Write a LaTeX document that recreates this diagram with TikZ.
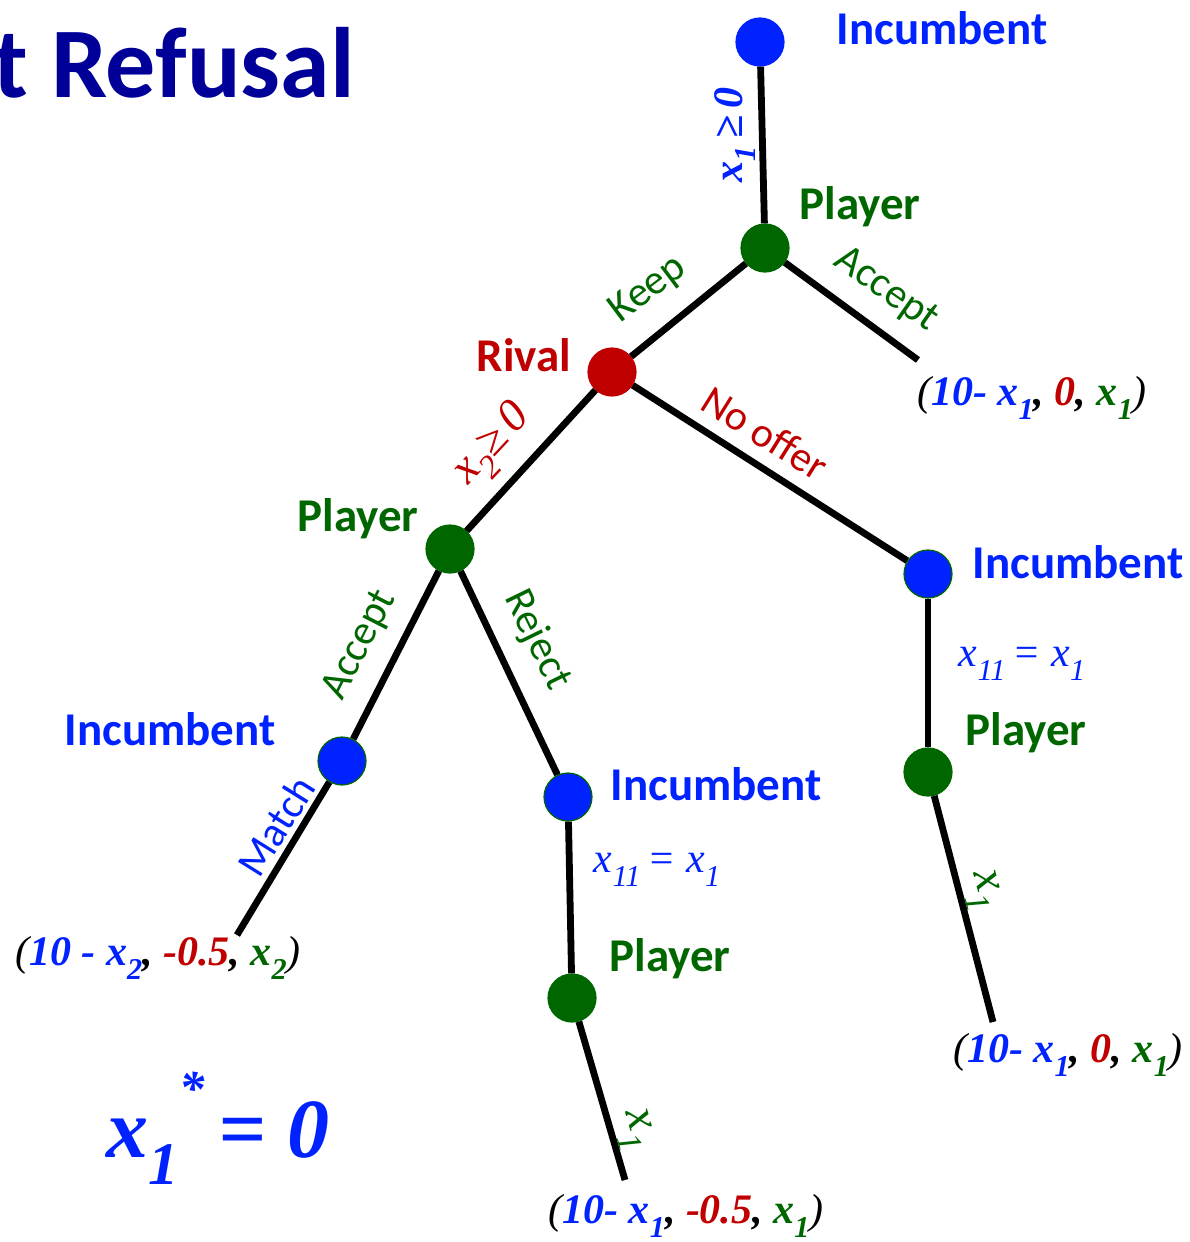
\documentclass[tikz,border=0pt]{standalone}
\usepackage{fontspec}
\setmainfont{Carlito}
\newfontfamily\timesit{Liberation Serif}
\usetikzlibrary{positioning}

\definecolor{incblue}{RGB}{0,34,255}
\definecolor{plgreen}{RGB}{0,102,0}
\definecolor{rivred}{RGB}{192,0,0}
\definecolor{titleblue}{RGB}{0,0,153}

% lowered index, italic like the letter before it
\newcommand\lo[1]{\raisebox{-0.32em}{\scalebox{0.72}{#1}}}

\begin{document}
\begin{tikzpicture}[x=0.5pt, y=-0.5pt,
    decision/.style={circle, minimum size=24pt, inner sep=0pt, line width=0.6pt},
    branch/.style={line width=3.4pt},
    who/.style={font=\bfseries\fontsize{23.5}{23.5}\selectfont},
    move/.style={font=\fontsize{21}{21}\selectfont, inner sep=1pt},
    payoff/.style={font=\timesit\itshape\bfseries\fontsize{21}{21}\selectfont},
    var/.style={font=\timesit\itshape\fontsize{21}{21}\selectfont, inner sep=1pt}]
    \clip (0,0) rectangle (1189,1242);
    \useasboundingbox (0,0) rectangle (1189,1242);

    % Titulo (cortado en el borde)
    \node (title) [anchor=base east, inner sep=0pt, text=titleblue, font=\bfseries\fontsize{50}{50}\selectfont] at (355,97) {t Refusal};

    % Nodos de decision
    \node (inc0) [decision, fill=incblue, draw=incblue] at (760,42) {};
    \node (pl1) [decision, fill=plgreen, draw=plgreen] at (765,248) {};
    \node (riv) [decision, fill=rivred, draw=rivred] at (612,372) {};
    \node (pl2) [decision, fill=plgreen, draw=plgreen] at (450,549) {};
    \node (inc1) [decision, fill=incblue, draw=plgreen] at (342,761) {};
    \node (inc2) [decision, fill=incblue, draw=plgreen] at (568,797) {};
    \node (pl3) [decision, fill=plgreen, draw=plgreen] at (572,998) {};
    \node (inc3) [decision, fill=incblue, draw=plgreen] at (928,574) {};
    \node (pl4) [decision, fill=plgreen, draw=plgreen] at (928,772) {};
    \coordinate (endA) at (918,360);
    \coordinate (endM) at (237,935);
    \coordinate (endR) at (625,1180);
    \coordinate (endN) at (993,1022);

    % Ramas
    \draw[branch] (inc0) -- (pl1);
    \draw[branch] (pl1) -- (riv);
    \draw[branch] (pl1) -- (endA);
    \draw[branch] (riv) -- (pl2);
    \draw[branch] (riv) -- (inc3);
    \draw[branch] (pl2) -- (inc1);
    \draw[branch] (pl2) -- (inc2);
    \draw[branch] (inc1) -- (endM);
    \draw[branch] (inc2) -- (pl3);
    \draw[branch] (pl3) -- (endR);
    \draw[branch] (inc3) -- (pl4);
    \draw[branch] (pl4) -- (endN);

    % Jugadores
    \node (inc0lbl) [who, text=incblue] at (942,28) {Incumbent};
    \node (pl1lbl) [who, text=plgreen] at (860,207) {Player};
    \node (rivlbl) [who, text=rivred] at (524,355) {Rival};
    \node (pl2lbl) [who, text=plgreen] at (358,519) {Player};
    \node (inc1lbl) [who, text=incblue] at (170,729) {Incumbent};
    \node (inc2lbl) [who, text=incblue] at (716,784) {Incumbent};
    \node (pl3lbl) [who, text=plgreen] at (670,959) {Player};
    \node (inc3lbl) [who, text=incblue] at (1078,562) {Incumbent};
    \node (pl4lbl) [who, text=plgreen] at (1026,733) {Player};

    % Acciones
    \node (x1lbl) [payoff, text=incblue, rotate=90, inner sep=1pt] at (735,135) {x\lo{1}\,≥\,0};
    \node (keeplbl) [move, text=plgreen, rotate=37] at (648,290) {Keep};
    \node (acclbl1) [move, text=plgreen, rotate=-35] at (886,290) {Accept};
    \node (x2lbl) [var, text=rivred, rotate=47, font=\timesit\itshape\fontsize{23}{23}\selectfont] at (494,446) {x\lo{2}≥\,0};
    \node (nooffer) [move, text=rivred, rotate=-32] at (765,433) {No offer};
    \node (acclbl2) [move, text=plgreen, rotate=63] at (360,645) {Accept};
    \node (rejlbl) [move, text=plgreen, rotate=-64] at (537,640) {Reject};
    \node (matchlbl) [move, text=incblue, rotate=58] at (276,826) {Match};
    \node (eqlblA) [var, text=incblue] at (657,870) {x\lo{11}\,= x\lo{1}};
    \node (eqlblB) [var, text=incblue] at (1022,664) {x\lo{11}\,= x\lo{1}};
    \node (x1lblA) [var, text=plgreen, rotate=-74, font=\timesit\itshape\fontsize{24}{24}\selectfont] at (634,1130) {x\lo{1}};
    \node (x1lblB) [var, text=plgreen, rotate=-75, font=\timesit\itshape\fontsize{24}{24}\selectfont] at (982,891) {x\lo{1}};

    % Pagos
    \node (payA) [payoff] at (1032,398) {{\mdseries(}\textcolor{incblue}{10- x\lo{1}}, \textcolor{rivred}{0}, \textcolor{plgreen}{x\lo{1}}{\mdseries)}};
    \node (payM) [payoff] at (158,958) {{\mdseries(}\textcolor{incblue}{10 - x\lo{2}}, \textcolor{rivred}{-0.5}, \textcolor{plgreen}{x\lo{2}}{\mdseries)}};
    \node (payR) [payoff] at (686,1216) {{\mdseries(}\textcolor{incblue}{10- x\lo{1}}, \textcolor{rivred}{-0.5}, \textcolor{plgreen}{x\lo{1}}{\mdseries)}};
    \node (payN) [payoff] at (1068,1055) {{\mdseries(}\textcolor{incblue}{10- x\lo{1}}, \textcolor{rivred}{0}, \textcolor{plgreen}{x\lo{1}}{\mdseries)}};

    % Resultado
    \node (result) [text=incblue, font=\timesit\itshape\bfseries\fontsize{42}{42}\selectfont] at (218,1128) {x\lo{1}\raisebox{0.62em}{\scalebox{0.6}{*}}\,= 0};
\end{tikzpicture}
\end{document}
